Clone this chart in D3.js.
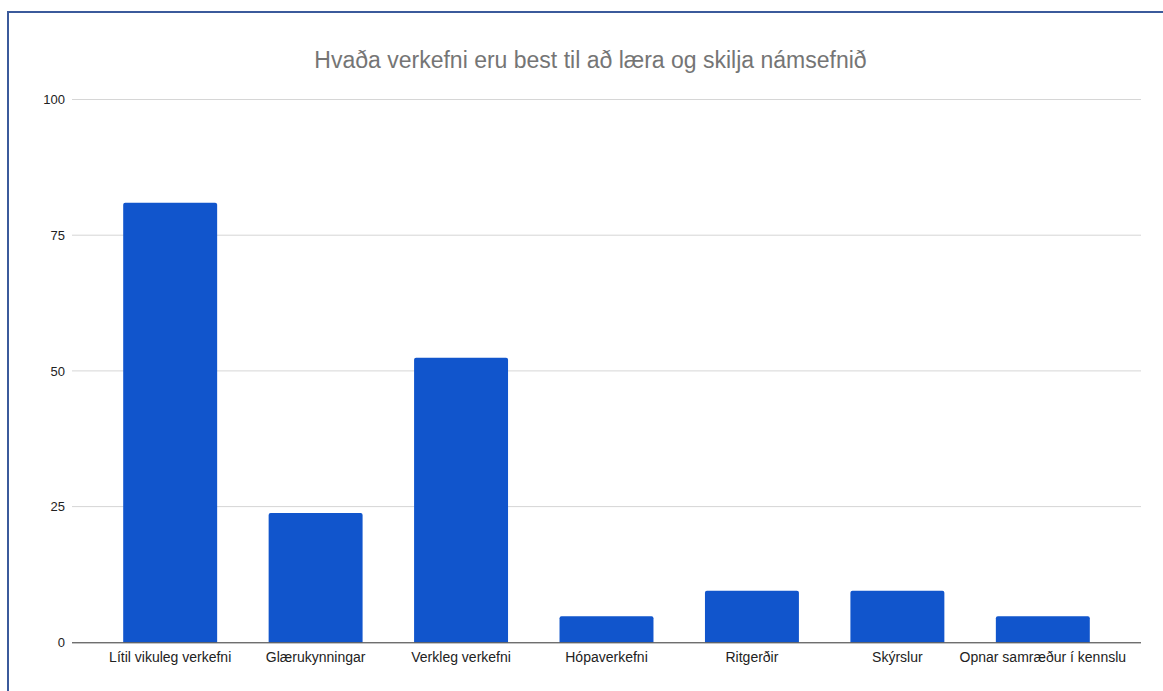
<!DOCTYPE html>
<html>
<head>
<meta charset="utf-8">
<script src="https://cdn.jsdelivr.net/npm/d3@7"></script>
<style>
html,body{margin:0;padding:0;background:#fff;}
svg{display:block;}
</style>
</head>
<body>
<svg id="chart" width="1163" height="691"></svg>
<script>
const title = "Hvaða verkefni eru best til að læra og skilja námsefnið";
const categories = ["Lítil vikuleg verkefni","Glærukynningar","Verkleg verkefni","Hópaverkefni","Ritgerðir","Skýrslur","Opnar samræður í kennslu"];
const values = [81.0, 23.8, 52.4, 4.8, 9.5, 9.5, 4.8];
const yTicks = [0, 25, 50, 75, 100];

const svg = d3.select("#chart");
const font = "'Liberation Sans', Arial, sans-serif";

// frame
svg.append("rect").attr("x", 8).attr("y", 12).attr("width", 1170).attr("height", 700)
  .attr("fill", "#fff").attr("stroke", "#3b5a9b").attr("stroke-width", 2);

const plotLeft = 72, plotRight = 1141, plotTop = 99.5, plotBottom = 642.3;
const x = d3.scaleBand().domain(categories).range([plotLeft, plotRight]).paddingInner(0.354).paddingOuter(0.352);
const y = d3.scaleLinear().domain([0, 100]).range([plotBottom, plotTop]);

// title
svg.append("text").attr("x", 590.5).attr("y", 68).attr("text-anchor", "middle")
  .attr("font-family", font).attr("font-size", 23).attr("fill", "#757575").text(title);

// gridlines
svg.append("g").selectAll("line").data(yTicks.filter(d => d > 0)).join("line")
  .attr("x1", plotLeft).attr("x2", plotRight).attr("y1", d => y(d)).attr("y2", d => y(d))
  .attr("stroke", "#d6d6d6").attr("stroke-width", 1);

// y axis labels
const yAxis = d3.axisLeft(y).tickValues(yTicks).tickSize(0).tickPadding(7);
const yg = svg.append("g").attr("transform", `translate(${plotLeft},0)`).call(yAxis);
yg.select(".domain").remove();
yg.selectAll("text").attr("font-family", font).attr("font-size", 13).attr("fill", "#222");

// bars
svg.append("g").selectAll("path").data(values).join("path")
  .attr("fill", "#1155cc")
  .attr("d", (d, i) => {
    const x0 = x(categories[i]), w = x.bandwidth(), y0 = y(d), y1 = y(0), r = 2;
    return `M${x0},${y1}V${y0 + r}Q${x0},${y0} ${x0 + r},${y0}H${x0 + w - r}Q${x0 + w},${y0} ${x0 + w},${y0 + r}V${y1}Z`;
  });

// x axis
const xAxis = d3.axisBottom(x).tickSize(0).tickPadding(10);
const xg = svg.append("g").attr("transform", `translate(0,${plotBottom})`).call(xAxis);
xg.select(".domain").attr("stroke", "#333").attr("d", `M${plotLeft},0.5H${plotRight}`);
xg.selectAll("text").attr("font-family", font).attr("font-size", 14).attr("fill", "#222");
</script>
</body>
</html>
